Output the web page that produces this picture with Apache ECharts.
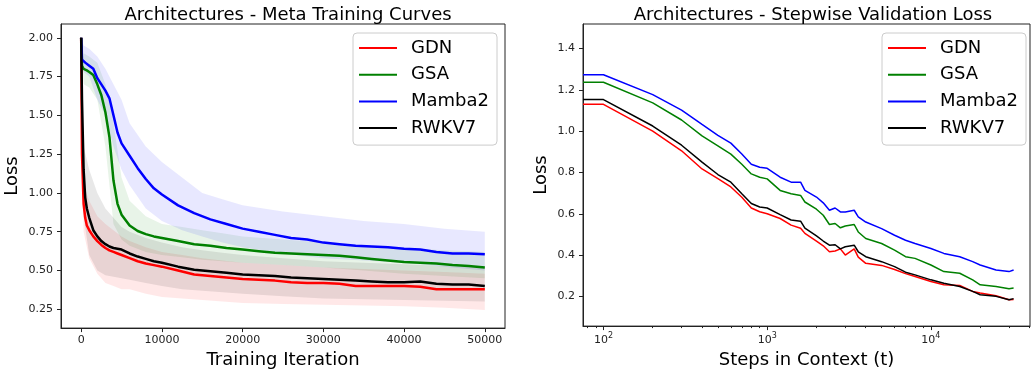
<!DOCTYPE html>
<html><head><meta charset="utf-8">
<script src="https://cdn.jsdelivr.net/npm/echarts@6/dist/echarts.min.js"></script>
<style>html,body{margin:0;padding:0;background:#fff}#c{width:1031px;height:374px}</style>
</head><body><div id="c"></div>
<script>
// ---------- DATA ----------
const seriesNames = ['GDN', 'GSA', 'Mamba2', 'RWKV7'];

// Left: Meta training curves
const iters = [0,100,300,500,700,1000,1500,2000,2500,3000,3500,4000,4500,5000,6000,7000,8000,9000,10000,12000,14000,16000,18000,20000,22000,24000,26000,28000,30000,32000,34000,36000,38000,40000,42000,44000,46000,48000,50000];
const trainGDN    = [2.00,1.25,0.93,0.84,0.79,0.76,0.72,0.69,0.665,0.645,0.63,0.62,0.61,0.60,0.58,0.56,0.545,0.535,0.525,0.50,0.475,0.465,0.455,0.445,0.44,0.435,0.425,0.42,0.42,0.415,0.40,0.40,0.40,0.40,0.395,0.38,0.38,0.38,0.38];
const trainGSA    = [2.00,1.82,1.80,1.79,1.79,1.78,1.76,1.70,1.63,1.52,1.36,1.08,0.93,0.86,0.79,0.755,0.735,0.72,0.71,0.69,0.67,0.66,0.645,0.635,0.625,0.615,0.61,0.605,0.60,0.595,0.585,0.575,0.565,0.555,0.55,0.545,0.535,0.53,0.52];
const trainMamba2 = [2.00,1.86,1.85,1.84,1.83,1.82,1.80,1.74,1.70,1.66,1.61,1.50,1.39,1.32,1.24,1.16,1.09,1.03,0.99,0.92,0.87,0.83,0.80,0.77,0.75,0.73,0.71,0.70,0.68,0.67,0.66,0.655,0.65,0.64,0.635,0.62,0.61,0.61,0.605];
const trainRWKV7  = [2.00,1.60,1.15,0.97,0.90,0.84,0.76,0.72,0.69,0.67,0.655,0.645,0.64,0.635,0.61,0.59,0.575,0.56,0.55,0.525,0.505,0.495,0.485,0.475,0.47,0.465,0.455,0.45,0.445,0.44,0.435,0.43,0.425,0.425,0.43,0.415,0.41,0.41,0.40];

// Left: shaded min/max bands
const bandIters = [0,300,1000,2000,3000,4000,5000,6000,8000,10000,12500,15000,17500,20000,25000,30000,35000,40000,45000,50000];
const bandGDNLo    = [2.00,0.75,0.58,0.48,0.42,0.40,0.38,0.38,0.35,0.33,0.32,0.31,0.30,0.29,0.285,0.28,0.275,0.27,0.26,0.245];
const bandGDNHi    = [2.00,1.05,0.95,0.85,0.80,0.76,0.72,0.69,0.65,0.62,0.60,0.58,0.565,0.55,0.535,0.52,0.51,0.50,0.49,0.48];
const bandGSALo    = [2.00,1.70,1.68,1.60,1.30,0.80,0.70,0.66,0.62,0.60,0.585,0.57,0.56,0.55,0.535,0.52,0.50,0.48,0.465,0.45];
const bandGSAHi    = [2.00,1.90,1.88,1.84,1.70,1.45,1.10,0.95,0.85,0.80,0.78,0.76,0.74,0.72,0.70,0.68,0.66,0.645,0.63,0.62];
const bandMamba2Lo = [2.00,1.78,1.75,1.60,1.50,1.30,1.15,1.05,0.90,0.82,0.76,0.72,0.68,0.65,0.61,0.58,0.565,0.55,0.525,0.50];
const bandMamba2Hi = [2.00,1.95,1.93,1.88,1.80,1.70,1.60,1.45,1.30,1.20,1.10,1.00,0.96,0.92,0.88,0.85,0.82,0.80,0.77,0.75];
const bandRWKV7Lo  = [2.00,0.85,0.60,0.50,0.47,0.46,0.45,0.44,0.42,0.40,0.38,0.37,0.36,0.35,0.335,0.32,0.315,0.31,0.305,0.30];
const bandRWKV7Hi  = [2.00,1.30,1.15,1.00,0.90,0.84,0.78,0.75,0.71,0.68,0.65,0.63,0.615,0.60,0.58,0.56,0.55,0.54,0.53,0.52];

// Right: stepwise validation loss
const steps = [75,100,200,300,400,500,600,700,800,900,1000,1200,1400,1600,1700,2000,2200,2400,2600,2800,3000,3400,3600,4000,5000,6000,7000,8000,10000,12000,15000,18000,20000,25000,30000,32000];
const valGDN    = [1.13,1.13,1.00,0.905,0.817,0.77,0.73,0.68,0.628,0.61,0.60,0.577,0.545,0.53,0.505,0.468,0.445,0.416,0.42,0.43,0.40,0.43,0.39,0.36,0.35,0.33,0.31,0.296,0.272,0.256,0.253,0.224,0.216,0.203,0.184,0.185];
const valGSA    = [1.237,1.237,1.137,1.054,0.977,0.929,0.889,0.84,0.793,0.777,0.769,0.713,0.697,0.689,0.657,0.622,0.593,0.548,0.553,0.532,0.541,0.548,0.512,0.48,0.456,0.424,0.392,0.384,0.352,0.32,0.312,0.28,0.256,0.248,0.237,0.24];
const valMamba2 = [1.273,1.273,1.177,1.102,1.033,0.98,0.942,0.889,0.84,0.825,0.82,0.777,0.753,0.753,0.713,0.681,0.653,0.617,0.628,0.609,0.609,0.617,0.585,0.56,0.528,0.496,0.472,0.456,0.432,0.408,0.392,0.368,0.352,0.328,0.32,0.328];
const valRWKV7  = [1.153,1.153,1.025,0.932,0.85,0.79,0.753,0.697,0.65,0.633,0.628,0.596,0.57,0.564,0.53,0.493,0.468,0.448,0.45,0.43,0.44,0.448,0.416,0.392,0.368,0.344,0.317,0.304,0.28,0.264,0.248,0.224,0.208,0.20,0.184,0.189];

// Tick values
const leftXTicks = [0,10000,20000,30000,40000,50000];
const leftYTicks = [0.25,0.50,0.75,1.00,1.25,1.50,1.75,2.00];
const rightXMajor = [100,1000,10000];
const rightXMinor = [80,90,200,300,400,500,600,700,800,900,2000,3000,4000,5000,6000,7000,8000,9000,20000,30000,40000];
const rightYTicks = [0.2,0.4,0.6,0.8,1.0,1.2,1.4];
const supLabels = {100:'2', 1000:'3', 10000:'4'};

// ---------- STYLE ----------
const FONT = 'DejaVu Sans';
const colorOf = {GDN:'#ff0000', GSA:'#008000', Mamba2:'#0000ff', RWKV7:'#000000'};
const trainData = {GDN:trainGDN, GSA:trainGSA, Mamba2:trainMamba2, RWKV7:trainRWKV7};
const bandData = {GDN:[bandGDNLo,bandGDNHi], GSA:[bandGSALo,bandGSAHi], Mamba2:[bandMamba2Lo,bandMamba2Hi], RWKV7:[bandRWKV7Lo,bandRWKV7Hi]};
const valData = {GDN:valGDN, GSA:valGSA, Mamba2:valMamba2, RWKV7:valRWKV7};

const pairs = (xs, ys) => xs.map((x,i)=>[x, ys[i]]);
const series = [];
seriesNames.forEach(n => {
  const [lo, hi] = bandData[n];
  const rows = bandIters.map((x,i)=>[x, lo[i], hi[i]]);
  series.push({
    type:'custom', name:n+' band', xAxisIndex:0, yAxisIndex:0, data:rows, silent:true, z:1, clip:true,
    encode:{x:0, y:[1,2]},
    renderItem:(params, api) => {
      if (params.dataIndexInside !== 0) return null;
      const pts = [];
      rows.forEach(r => pts.push(api.coord([r[0], r[1]])));
      for (let i = rows.length - 1; i >= 0; i--) pts.push(api.coord([rows[i][0], rows[i][2]]));
      return {type:'polygon', shape:{points:pts}, style:{fill:colorOf[n], opacity:0.09}};
    }
  });
});
seriesNames.forEach(n => {
  series.push({type:'line', name:n, xAxisIndex:0, yAxisIndex:0, data:pairs(iters, trainData[n]), symbol:'none',
    lineStyle:{color:colorOf[n], width:2.5}, itemStyle:{color:colorOf[n]}, z:3});
});
seriesNames.forEach(n => {
  series.push({type:'line', name:n, xAxisIndex:1, yAxisIndex:1, data:pairs(steps, valData[n]), symbol:'none',
    lineStyle:{color:colorOf[n], width:1.5}, itemStyle:{color:colorOf[n]}, z:3});
});

const tickColor = '#222';
const axisCommon = {
  axisLine:{show:true, onZero:false, lineStyle:{color:'#222', width:1}},
  splitLine:{show:false},
  nameTextStyle:{fontFamily:FONT, fontSize:18, color:'#000'},
};
const legendCommon = {
  orient:'vertical', icon:'rect', itemWidth:38, itemHeight:2, itemGap:6.7,
  padding:[5,8,7,6], borderColor:'#cccccc', borderWidth:1, borderRadius:4,
  backgroundColor:'rgba(255,255,255,0.8)', data:seriesNames,
  textStyle:{fontFamily:FONT, fontSize:18, color:'#000', lineHeight:20, padding:[0,0,0,9]},
  selectedMode:false
};

const option = {
  animation:false,
  backgroundColor:'#fff',
  title:[
    {text:'Architectures - Meta Training Curves', left:283, top:1, textAlign:'center',
     textStyle:{fontFamily:FONT, fontSize:18, fontWeight:'normal', color:'#000'}},
    {text:'Architectures - Stepwise Validation Loss', left:808, top:1, textAlign:'center',
     textStyle:{fontFamily:FONT, fontSize:18, fontWeight:'normal', color:'#000'}}
  ],
  legend:[
    Object.assign({left:353, top:33}, legendCommon),
    Object.assign({left:882, top:33}, legendCommon)
  ],
  grid:[
    {left:61, top:24, width:444, height:307, show:true, borderColor:'#222', borderWidth:1, containLabel:false},
    {left:583, top:24, width:447, height:304, show:true, borderColor:'#222', borderWidth:1, containLabel:false}
  ],
  xAxis:[
    Object.assign({}, axisCommon, {type:'value', gridIndex:0, min:-2500, max:52500,
      name:'Training Iteration', nameLocation:'middle', nameGap:22,
      axisTick:{show:true, length:4, lineStyle:{color:tickColor}, customValues:leftXTicks},
      axisLabel:{fontFamily:FONT, fontSize:11, color:tickColor, margin:7, customValues:leftXTicks,
        formatter:v => String(v)}}),
    Object.assign({}, axisCommon, {type:'log', logBase:10, gridIndex:1, min:75, max:40300,
      name:'Steps in Context (t)', nameLocation:'middle', nameGap:21,
      axisTick:{show:true, length:4, lineStyle:{color:tickColor}, customValues:rightXMajor},
      axisLabel:{fontFamily:FONT, fontSize:11, color:tickColor, margin:6, customValues:rightXMajor,
        formatter:v => '{b|10}{s|' + supLabels[Math.round(v)] + '}',
        rich:{b:{fontFamily:FONT, fontSize:11, color:tickColor, verticalAlign:'bottom'},
              s:{fontFamily:FONT, fontSize:8, color:tickColor, verticalAlign:'bottom', padding:[0,0,6,0]}}}}),
    {type:'log', logBase:10, gridIndex:1, min:75, max:40300, position:'bottom',
      axisLine:{show:false, onZero:false}, splitLine:{show:false}, axisLabel:{show:false},
      axisTick:{show:true, length:2, lineStyle:{color:tickColor}, customValues:rightXMinor}}
  ],
  yAxis:[
    Object.assign({}, axisCommon, {type:'value', gridIndex:0, min:0.129, max:2.089,
      name:'Loss', nameLocation:'middle', nameGap:40,
      axisTick:{show:true, length:4, lineStyle:{color:tickColor}, customValues:leftYTicks},
      axisLabel:{fontFamily:FONT, fontSize:11, color:tickColor, margin:8, customValues:leftYTicks,
        formatter:v => v.toFixed(2)}}),
    Object.assign({}, axisCommon, {type:'value', gridIndex:1, min:0.056, max:1.519,
      name:'Loss', nameLocation:'middle', nameGap:33,
      axisTick:{show:true, length:4, lineStyle:{color:tickColor}, customValues:rightYTicks},
      axisLabel:{fontFamily:FONT, fontSize:11, color:tickColor, margin:8, customValues:rightYTicks,
        formatter:v => v.toFixed(1)}})
  ],
  series: series
};
const chart = echarts.init(document.getElementById('c'), null, {renderer:'canvas'});
chart.setOption(option);
</script>
</body></html>
